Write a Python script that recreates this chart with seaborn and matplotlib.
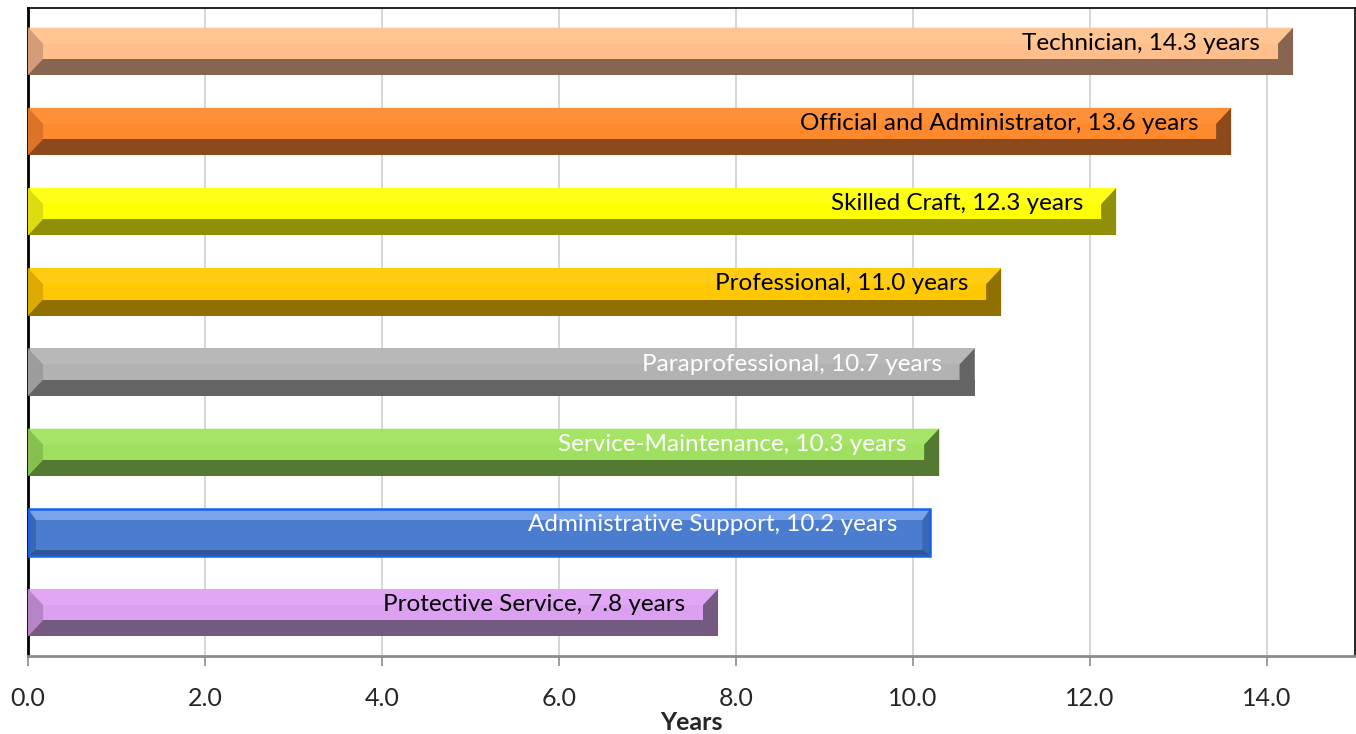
import matplotlib
matplotlib.use('Agg')
import matplotlib.pyplot as plt
import seaborn as sns
import pandas as pd
from matplotlib.patches import Polygon

# Data
categories = ['Technician', 'Official and Administrator', 'Skilled Craft', 'Professional',
              'Paraprofessional', 'Service-Maintenance', 'Administrative Support',
              'Protective Service']
years = [14.3, 13.6, 12.3, 11.0, 10.7, 10.3, 10.2, 7.8]
x_ticks = [0, 2, 4, 6, 8, 10, 12, 14]

# Styling: face / highlight / shadow / left-bevel / label colours
face_colors = ['#FFBE8C', '#FF8A2E', '#FFFF00', '#FFC800', '#B2B2B2', '#A0E060', '#4A7CCF', '#DBA0F0']
top_colors = ['#FFC593', '#FF9038', '#FFFF1A', '#FFCC14', '#B8B8B8', '#A6E468', '#7AA4EA', '#E2A6F6']
shade_colors = ['#876550', '#8C4A1C', '#8F8F0A', '#8F7000', '#646464', '#537A30', '#2F5597', '#745A80']
bevel_colors = ['#D49C78', '#DC7428', '#DCDC10', '#DCAA00', '#9C9C9C', '#88C050', '#3A66B5', '#B884C8']
label_colors = ['black', 'black', 'black', 'black', 'white', 'white', 'white', 'black']

df = pd.DataFrame({'category': categories, 'years': years})

sns.set_style('white')
plt.rcParams['font.family'] = ['Lato', 'DejaVu Sans']

fig = plt.figure(figsize=(13.56, 7.34), dpi=100)
ax = fig.add_axes([28 / 1356, 1 - 656 / 734, 1327 / 1356, 648 / 734])

sns.barplot(data=df, y='category', x='years', hue='category', order=categories,
            hue_order=categories, palette=face_colors, width=0.59, legend=False,
            saturation=1, ax=ax, zorder=2, linewidth=0)

ax.set_xlim(0, 15)
ax.set_ylim(7.54, -0.54)

# bevel sizes in data units (about 15 px wide, 16 px tall)
bx = 0.17
by = 0.2

for p in ax.patches[:len(categories)]:
    y0 = p.get_y()
    h = p.get_height()
    x1 = p.get_width()
    i = int(round(y0 + h / 2))
    top, bot = y0, y0 + h
    if categories[i] == 'Administrative Support':
        bxi, byi = 0.09, 0.14
        ax.add_patch(Polygon([(0, top), (x1, top), (x1, top + byi), (0, top + byi)],
                             closed=True, color=top_colors[i], zorder=3, lw=0))
        ax.add_patch(Polygon([(0, bot - 0.08), (x1, bot - 0.08), (x1, bot), (0, bot)],
                             closed=True, color=shade_colors[i], zorder=3, lw=0))
        ax.add_patch(Polygon([(0, top), (bxi, top + byi), (bxi, bot - 0.08), (0, bot)],
                             closed=True, color=bevel_colors[i], zorder=3, lw=0))
        ax.add_patch(Polygon([(x1, top), (x1 - bxi, top + byi), (x1 - bxi, bot - 0.08), (x1, bot)],
                             closed=True, color=bevel_colors[i], zorder=3, lw=0))
        ax.add_patch(Polygon([(0, top), (x1, top), (x1, bot), (0, bot)], closed=True,
                             fill=False, edgecolor='#1463F0', lw=1.8, zorder=4))
    else:
        # top highlight strip
        ax.add_patch(Polygon([(0, top), (x1, top), (x1 - bx, top + by), (bx, top + by)],
                             closed=True, color=top_colors[i], zorder=3, lw=0))
        # dark lower band
        ax.add_patch(Polygon([(0, bot - by), (x1, bot - by), (x1, bot), (0, bot)],
                             closed=True, color=shade_colors[i], zorder=3, lw=0))
        # right end bevel
        ax.add_patch(Polygon([(x1, top), (x1 - bx, top + by), (x1 - bx, bot - by), (x1, bot)],
                             closed=True, color=shade_colors[i], zorder=3, lw=0))
        # left end bevel
        ax.add_patch(Polygon([(0, top), (bx, top + by), (bx, bot - by), (0, bot)],
                             closed=True, color=bevel_colors[i], zorder=4, lw=0))
    ax.text(x1 - 0.37, i - 0.1, f'{categories[i]}, {years[i]:.1f} years',
            ha='right', va='center', fontsize=17.5, color=label_colors[i], zorder=5)

# axes styling
ax.set_xticks(x_ticks)
ax.set_xticklabels([f'{t:.1f}' for t in x_ticks], fontsize=18)
ax.set_yticks([])
ax.set_ylabel('')
ax.set_xlabel('Years', fontsize=18, fontweight='bold', labelpad=1)
ax.grid(axis='x', color='#D0D0D0', lw=1.2, zorder=0)
ax.set_axisbelow(True)
ax.tick_params(axis='x', direction='out', length=7, width=1.2, color='#8C8C8C', pad=15, bottom=True)

for side in ['top', 'right']:
    ax.spines[side].set_color('black')
    ax.spines[side].set_linewidth(1.2)
ax.spines['left'].set_color('black')
ax.spines['left'].set_linewidth(2)
ax.spines['bottom'].set_color('#8C8C8C')
ax.spines['bottom'].set_linewidth(2)

fig.savefig('out.png', dpi=100)
